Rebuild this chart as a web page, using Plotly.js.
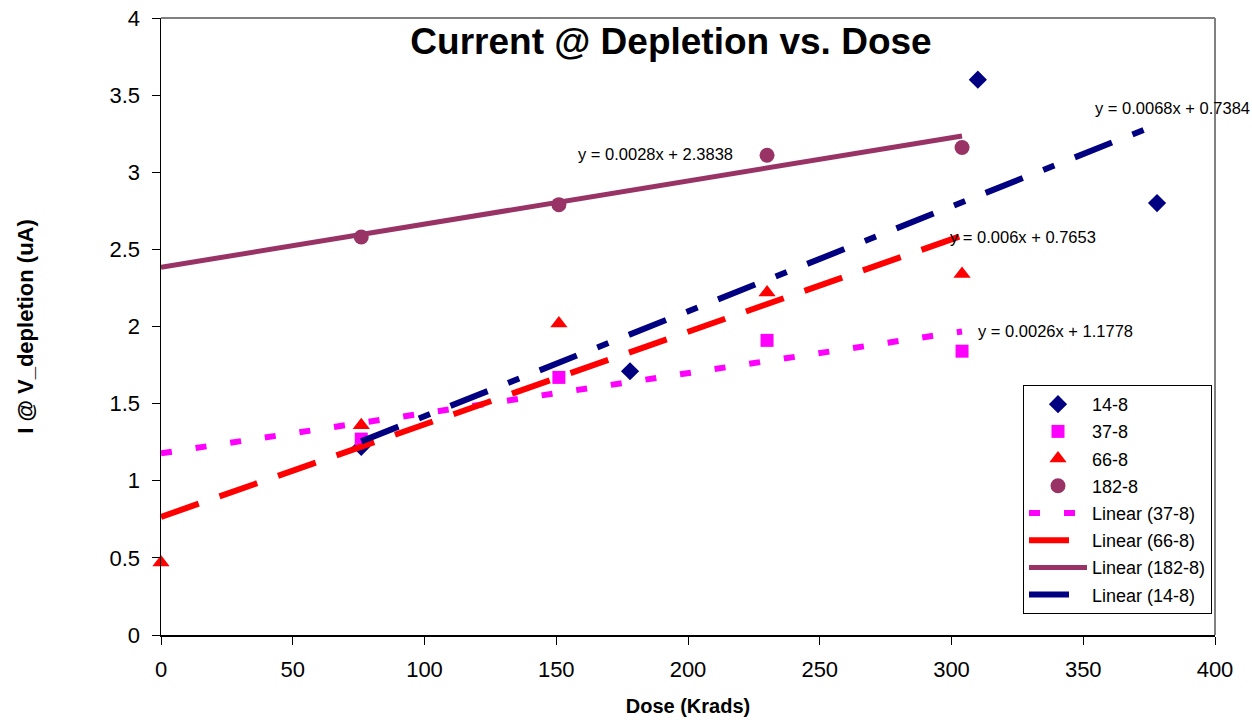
<!DOCTYPE html>
<html>
<head>
<meta charset="utf-8">
<script src="https://cdn.plot.ly/plotly-3.0.1.min.js"></script>
<style>html,body{margin:0;padding:0;background:#fff;}#chart{width:1252px;height:727px;}</style>
</head>
<body>
<div id="chart"></div>
<script>
// ---- data ----
const seriesNames = ["14-8", "37-8", "66-8", "182-8"];
const dose14 = [76, 178, 310, 378];
const cur14 = [1.22, 1.71, 3.60, 2.80];
const dose37 = [76, 151, 230, 304];
const cur37 = [1.27, 1.67, 1.91, 1.84];
const dose66 = [0, 76, 151, 230, 304];
const cur66 = [0.47, 1.36, 2.02, 2.22, 2.34];
const dose182 = [76, 151, 230, 304];
const cur182 = [2.58, 2.79, 3.11, 3.16];

// trendlines (Excel linear fits as printed)
const trendNames = ["Linear (37-8)", "Linear (66-8)", "Linear (182-8)", "Linear (14-8)"];
const trendSlope = [0.0026, 0.006, 0.0028, 0.0068];
const trendIntercept = [1.1778, 0.7653, 2.3838, 0.7384];
const trendFrom = [0, 0, 0, 76];
const trendTo = [304, 304, 304, 378];
const trendLabels = ["y = 0.0026x + 1.1778", "y = 0.006x + 0.7653", "y = 0.0028x + 2.3838", "y = 0.0068x + 0.7384"];

const xTicks = [0, 50, 100, 150, 200, 250, 300, 350, 400];
const yTicks = [0, 0.5, 1, 1.5, 2, 2.5, 3, 3.5, 4];

const NAVY = "#000080", MAG = "#FF00FF", RED = "#FF0000", PURP = "#993366";
const FONT = "Liberation Sans, Arial, sans-serif";

const traces = [
  {x: dose14, y: cur14, name: seriesNames[0], mode: "markers", type: "scatter", cliponaxis: false,
   legendgroup: "a", marker: {symbol: "diamond", size: 14, color: NAVY}},
  {x: dose37, y: cur37, name: seriesNames[1], mode: "markers", type: "scatter", cliponaxis: false,
   legendgroup: "b", marker: {symbol: "square", size: 13, color: MAG}},
  {x: dose66, y: cur66, name: seriesNames[2], mode: "markers", type: "scatter", cliponaxis: false,
   legendgroup: "c", marker: {symbol: "triangle-up", size: 15, color: RED}},
  {x: dose182, y: cur182, name: seriesNames[3], mode: "markers", type: "scatter", cliponaxis: false,
   legendgroup: "d", marker: {symbol: "circle", size: 15, color: PURP}}
];

const trendStyles = [
  {color: MAG, width: 6, dash: "11px,24px"},
  {color: RED, width: 6, dash: "40px,22px"},
  {color: PURP, width: 5, dash: "solid"},
  {color: NAVY, width: 6, dash: "40px,22px,12px,22px"}
];
const groups = ["e", "f", "g", "h"];
for (let i = 0; i < trendNames.length; i++) {
  const xs = [trendFrom[i], trendTo[i]];
  const ys = xs.map(v => trendSlope[i] * v + trendIntercept[i]);
  traces.push({x: xs, y: ys, name: trendNames[i], mode: "lines", type: "scatter",
    legendgroup: groups[i], line: trendStyles[i], hoverinfo: "skip"});
}

const annotations = [
  {text: trendLabels[0], x: 976, y: 331},
  {text: trendLabels[1], x: 948, y: 237},
  {text: trendLabels[2], x: 576, y: 154},
  {text: trendLabels[3], x: 1093, y: 108}
].map(a => ({
  text: a.text, xref: "paper", yref: "paper",
  x: (a.x - 161) / 1054, y: (635 - a.y) / 617,
  xanchor: "left", yanchor: "middle", showarrow: false,
  font: {family: FONT, size: 16.5, color: "#000"}
}));

const layout = {
  width: 1252, height: 727,
  margin: {l: 161, r: 37, t: 18, b: 92, pad: 0},
  paper_bgcolor: "#fff", plot_bgcolor: "#fff",
  font: {family: FONT, color: "#000"},
  title: {text: "<b>Current @ Depletion vs. Dose</b>", font: {family: FONT, size: 37, color: "#000"},
    x: 671 / 1252, xanchor: "center", y: 1 - 41 / 727, yanchor: "middle", xref: "container", yref: "container"},
  showlegend: true,
  legend: {x: (1023 - 161) / 1054, y: (635 - 385) / 617, xanchor: "left", yanchor: "top",
    bgcolor: "#fff", bordercolor: "#000", borderwidth: 1,
    font: {family: FONT, size: 18, color: "#000"}, traceorder: "grouped", tracegroupgap: 0.8,
    itemwidth: 58},
  xaxis: {range: [0, 400], tickvals: xTicks, ticktext: xTicks.map(String),
    showgrid: false, zeroline: false, showline: true, linecolor: "#000", linewidth: 1.5,
    ticks: "outside", ticklen: 8, tickcolor: "#000", tickfont: {family: FONT, size: 22},
    ticklabelstandoff: 6,
    title: {text: "<b>Dose (Krads)</b>", font: {family: FONT, size: 20}, standoff: 18}},
  yaxis: {range: [0, 4], tickvals: yTicks, ticktext: yTicks.map(String),
    showgrid: false, zeroline: false, showline: true, linecolor: "#000", linewidth: 1.5,
    ticks: "outside", ticklen: 8, tickcolor: "#000", tickfont: {family: FONT, size: 22},
    ticklabelstandoff: 7,
    title: {text: "<b>I @ V_depletion (uA)</b>", font: {family: FONT, size: 22}, standoff: 70}},
  shapes: [
    {type: "line", xref: "paper", yref: "paper", x0: 0, x1: 1, y0: 1, y1: 1, line: {color: "#808080", width: 2}},
    {type: "line", xref: "paper", yref: "paper", x0: 1, x1: 1, y0: 0, y1: 1, line: {color: "#808080", width: 2}}
  ],
  annotations: annotations
};

Plotly.newPlot("chart", traces, layout, {displayModeBar: false, staticPlot: true});
</script>
</body>
</html>
